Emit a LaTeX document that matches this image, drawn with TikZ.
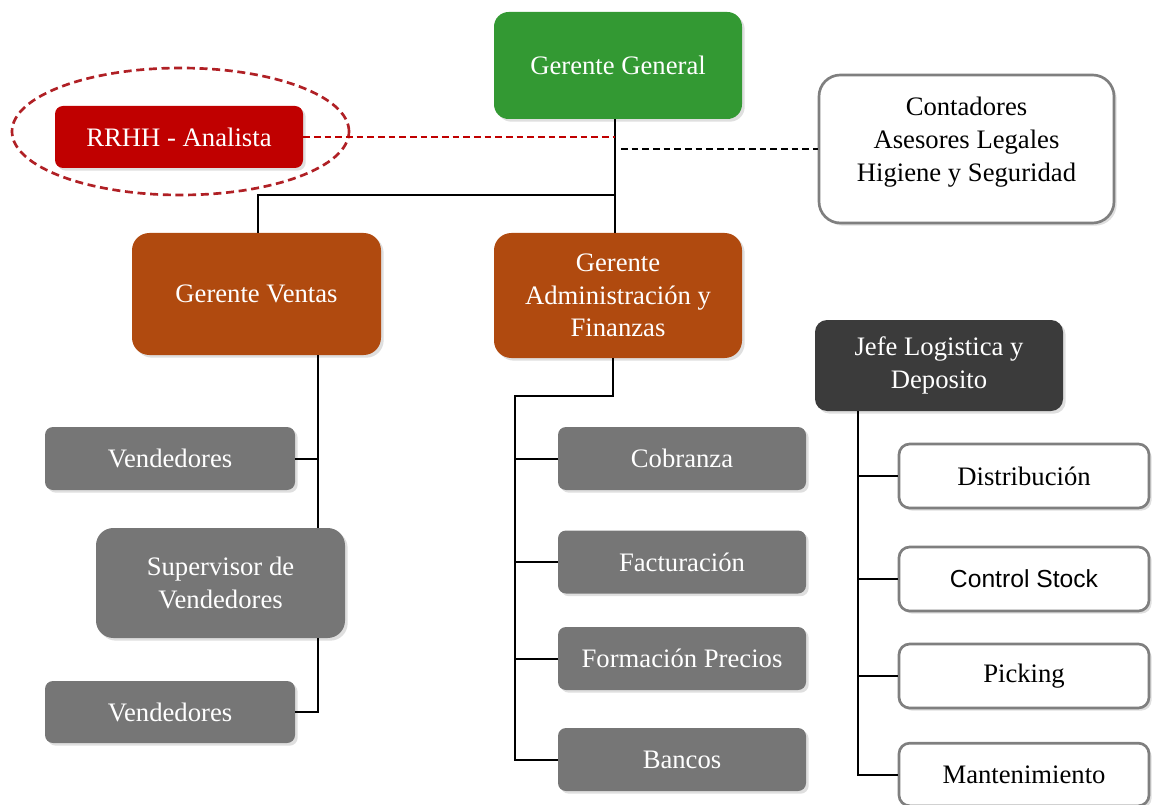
\documentclass[tikz,border=0pt]{standalone}
\usepackage{fontspec}
\setmainfont{Liberation Serif}
\newfontfamily\arialf{Liberation Sans}
\usetikzlibrary{shapes.geometric,shadows,calc}
\definecolor{ggreen}{HTML}{339933}
\definecolor{rrred}{HTML}{C00000}
\definecolor{borange}{HTML}{B04A0F}
\definecolor{bgray}{HTML}{767676}
\definecolor{bdark}{HTML}{3B3B3B}
\definecolor{lgray}{HTML}{7F7F7F}
\definecolor{ellred}{HTML}{B02025}
\tikzset{
  box/.style={rectangle, align=center, inner sep=2pt, text=white,
    font=\fontsize{20}{24.5}\selectfont,
    drop shadow={shadow xshift=2pt, shadow yshift=-2pt, opacity=.25}},
  greenbox/.style={box, fill=ggreen, rounded corners=11pt},
  redbox/.style={box, fill=rrred, rounded corners=6pt},
  orbox/.style={box, fill=borange, rounded corners=13pt},
  graybox/.style={box, fill=bgray, rounded corners=6pt},
  graybig/.style={box, fill=bgray, rounded corners=13pt},
  darkbox/.style={box, fill=bdark, rounded corners=9pt},
  whitebox/.style={box, fill=white, text=black, draw=lgray, line width=2pt, rounded corners=8pt},
  wbig/.style={whitebox, rounded corners=16pt},
  conn/.style={line width=1.5pt, black},
}
\begin{document}
\begin{tikzpicture}[x=0.75pt, y=-0.75pt]
\useasboundingbox (0,0) rectangle (1155,805);

% nodes
\node[greenbox, minimum width=186pt, minimum height=80.25pt] (gg) at (618,65.5) {Gerente General};
\node[redbox, minimum width=186pt, minimum height=46.5pt] (rrhh) at (179,137) {RRHH - Analista};
\node[draw=ellred, dashed, dash pattern=on 6pt off 3.5pt, line width=2pt, ellipse,
      minimum width=252.75pt, minimum height=95.25pt] (ell) at (180.5,131.5) {};
\node[wbig, minimum width=221.25pt, minimum height=111pt] (cont) at (966.5,149)
  {Contadores\\Asesores Legales\\Higiene y Seguridad\\[-10pt]\mbox{}};
\node[orbox, minimum width=186.75pt, minimum height=91.5pt] (ventas) at (256.5,294) {Gerente Ventas};
\node[orbox, minimum width=186pt, minimum height=93.75pt] (adm) at (618,295.5)
  {Gerente\\Administración y\\Finanzas};
\node[graybox, minimum width=187.5pt, minimum height=47.25pt] (vend1) at (170,458.5) {Vendedores};
\node[graybig, minimum width=186.75pt, minimum height=82.5pt] (sup) at (220.5,583) {Supervisor de\\Vendedores};
\node[graybox, minimum width=187.5pt, minimum height=46.5pt] (vend2) at (170,712) {Vendedores};
\node[graybox, minimum width=186pt, minimum height=47.25pt] (cob) at (682,458.5) {Cobranza};
\node[graybox, minimum width=186pt, minimum height=47.25pt] (fac) at (682,562) {Facturación};
\node[graybox, minimum width=186pt, minimum height=47.25pt] (form) at (682,658.5) {Formación Precios};
\node[graybox, minimum width=186pt, minimum height=47.25pt] (ban) at (682,759.5) {Bancos};
\node[darkbox, minimum width=186pt, minimum height=68.25pt] (jefe) at (939,365.5) {Jefe Logistica y\\Deposito};
\node[whitebox, minimum width=187.5pt, minimum height=48pt] (dist) at (1024,476) {Distribución};
\node[whitebox, minimum width=187.5pt, minimum height=48pt] (ctrl) at (1024,579) {\arialf\fontsize{18.5}{22}\selectfont Control Stock};
\node[whitebox, minimum width=187.5pt, minimum height=48pt] (pick) at (1024,676) {Picking};
\node[whitebox, minimum width=187.5pt, minimum height=47pt] (mant) at (1024,774.5) {Mantenimiento};

% helper coordinates
\coordinate (gx) at (615,0);
\coordinate (j1) at (615,195);
\coordinate (vx) at (318,0);
\coordinate (ax) at (613,0);
\coordinate (ab) at (515,396);
\coordinate (jx) at (858,0);

% connectors
\draw[conn] (gg.south -| gx) -- (adm.north -| gx);
\draw[conn] (j1) -| (ventas.north -| 258,0);
\draw[dash pattern=on 5pt off 3pt, line width=1.4pt, rrred] (rrhh.east) -- (rrhh.east -| gx);
\draw[dash pattern=on 5pt off 3pt, line width=1.4pt] ($(cont.west -| gx)+(6,0)$) -- (cont.west);

\draw[conn] (ventas.south -| vx) -- (sup.north -| vx);
\draw[conn] (vend1.east) -- (vend1.east -| vx);
\draw[conn] (sup.south -| vx) |- (vend2.east);

\draw[conn] (adm.south -| ax) |- (ab) |- (ban.west);
\draw[conn] (cob.west -| ab) -- (cob.west);
\draw[conn] (fac.west -| ab) -- (fac.west);
\draw[conn] (form.west -| ab) -- (form.west);

\draw[conn] (jefe.south -| jx) |- (mant.west);
\draw[conn] (dist.west -| jx) -- (dist.west);
\draw[conn] (ctrl.west -| jx) -- (ctrl.west);
\draw[conn] (pick.west -| jx) -- (pick.west);
\end{tikzpicture}
\end{document}
